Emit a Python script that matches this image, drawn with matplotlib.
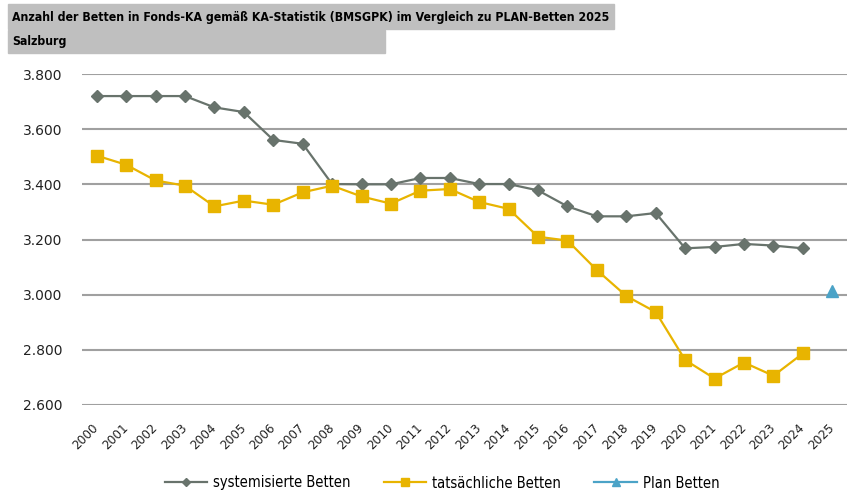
import numpy as np
import matplotlib.pyplot as plt
from matplotlib.patches import Rectangle
from matplotlib.ticker import FuncFormatter

years = [str(y) for y in range(2000, 2026)]
systemisiert = [3720, 3720, 3720, 3720, 3679, 3662, 3561, 3547, 3401, 3400,
                3400, 3423, 3423, 3401, 3401, 3378, 3320, 3284, 3284, 3296,
                3168, 3173, 3184, 3178, 3168, np.nan]
tatsaechlich = [3504, 3471, 3414, 3395, 3320, 3341, 3326, 3371, 3395, 3356,
                3330, 3377, 3383, 3336, 3311, 3210, 3196, 3089, 2995, 2937,
                2763, 2696, 2754, 2706, 2787, np.nan]
plan = [np.nan] * 25 + [3015]

title = "Anzahl der Betten in Fonds-KA gemäß KA-Statistik (BMSGPK) im Vergleich zu PLAN-Betten 2025"
subtitle = "Salzburg"

W, H = 859, 491
fig = plt.figure(figsize=(W / 100, H / 100), dpi=100)
ax = fig.add_axes([82 / W, 1 - 405 / H, (847 - 82) / W, (405 - 74) / H])

x = np.arange(len(years))
c_grau = "#68736c"
c_gelb = "#e8b400"
c_blau = "#4ba3c7"
ax.plot(x, systemisiert, color=c_grau, lw=1.6, marker="D", ms=6.5, label="systemisierte Betten", zorder=3)
ax.plot(x, tatsaechlich, color=c_gelb, lw=1.6, marker="s", ms=8, label="tatsächliche Betten", zorder=3)
ax.plot(x, plan, color=c_blau, lw=1.6, marker="^", ms=8, label="Plan Betten", zorder=3)

ax.set_xlim(-0.5, len(years) - 0.5)
ax.set_ylim(2600, 3800)
ax.set_yticks(np.arange(2600, 3801, 200))
ax.yaxis.set_major_formatter(FuncFormatter(lambda v, p: f"{int(v):,}".replace(",", ".")))
ax.grid(axis="y", color="#a0a0a0", lw=1.5)
ax.set_axisbelow(True)
for s in ax.spines.values():
    s.set_visible(False)
ax.tick_params(axis="y", length=0, pad=14, labelsize=10, labelcolor="#222222")
ax.tick_params(axis="x", length=0, pad=15, labelsize=9.6, labelcolor="#222222")
ax.set_xticks(x)
ax.set_xticklabels(years, rotation=45, ha="right", va="center", rotation_mode="anchor")
for lbl in ax.get_xticklabels():
    lbl.set_fontstretch("condensed")

# Titelbalken
fig.patches.append(Rectangle((8 / W, 1 - 29 / H), (614 - 8) / W, 25 / H,
                             transform=fig.transFigure, color="#bfbfbf", zorder=0))
fig.patches.append(Rectangle((8 / W, 1 - 53 / H), (385 - 8) / W, 23 / H,
                             transform=fig.transFigure, color="#bfbfbf", zorder=0))
fig.text(12 / W, 1 - 17 / H, title, fontsize=8.8, fontweight="bold", fontstretch="condensed",
         va="center", ha="left")
fig.text(12 / W, 1 - 42 / H, subtitle, fontsize=8.8, fontweight="bold", fontstretch="condensed",
         va="center", ha="left")

leg = ax.legend(loc="center", bbox_to_anchor=(442 / W, (H - 483) / H), bbox_transform=fig.transFigure,
                ncol=3, frameon=False, fontsize=10.5, handlelength=2.9, handletextpad=0.4,
                columnspacing=2.3, markerscale=0.7)
for t in leg.get_texts():
    t.set_fontstretch("condensed")

fig.savefig("out.png", dpi=100)
